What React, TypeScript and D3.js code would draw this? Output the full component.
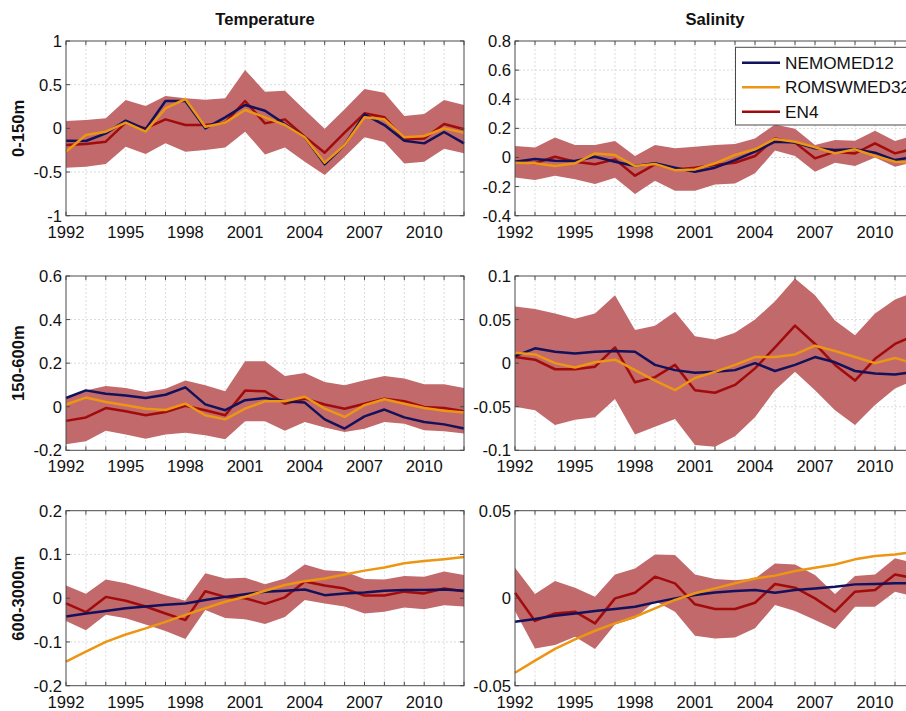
import React from "react";
import * as d3 from "d3";

// ---------- categories ----------
const years = [1992, 1993, 1994, 1995, 1996, 1997, 1998, 1999, 2000, 2001, 2002, 2003, 2004, 2005, 2006, 2007, 2008, 2009, 2010, 2011, 2012];
const xTickYears = [1992, 1995, 1998, 2001, 2004, 2007, 2010];
const seriesNames = ["NEMOMED12", "ROMSWMED32", "EN4"];
const colTitles = ["Temperature", "Salinity"];
const rowTitles = ["0-150m", "150-600m", "600-3000m"];

// ---------- Temperature 0-150m ----------
const t1Nemo = [-0.141, -0.145, -0.057, 0.088, -0.011, 0.313, 0.313, 0.0, 0.126, 0.267, 0.202, 0.05, -0.103, -0.412, -0.191, 0.16, 0.038, -0.141, -0.172, -0.042, -0.172];
const t1Roms = [-0.267, -0.076, -0.038, 0.065, -0.038, 0.229, 0.336, 0.019, 0.065, 0.21, 0.126, 0.038, -0.103, -0.393, -0.191, 0.126, 0.103, -0.103, -0.088, 0.0, -0.05];
const t1En4 = [-0.191, -0.179, -0.153, 0.065, 0.0, 0.103, 0.038, 0.038, 0.065, 0.313, 0.057, 0.103, -0.095, -0.279, -0.05, 0.172, 0.126, -0.126, -0.115, 0.05, -0.011];
const t1Hi = [0.084, 0.095, 0.115, 0.324, 0.256, 0.37, 0.344, 0.328, 0.344, 0.668, 0.42, 0.431, 0.21, -0.004, 0.218, 0.45, 0.408, 0.141, 0.164, 0.324, 0.267];
const t1Lo = [-0.45, -0.439, -0.408, -0.21, -0.294, -0.172, -0.267, -0.248, -0.218, -0.038, -0.298, -0.218, -0.382, -0.534, -0.324, -0.103, -0.156, -0.401, -0.382, -0.233, -0.286];
const t1Ticks = [-1, -0.5, 0, 0.5, 1];

// ---------- Salinity 0-150m ----------
const s1Nemo = [-0.029, -0.011, -0.022, -0.024, 0.005, -0.029, -0.059, -0.04, -0.07, -0.098, -0.07, -0.018, 0.04, 0.108, 0.102, 0.063, 0.051, 0.056, 0.033, -0.018, 0.005];
const s1Roms = [-0.036, -0.04, -0.059, -0.04, 0.028, 0.017, -0.059, -0.045, -0.087, -0.082, -0.04, 0.017, 0.056, 0.127, 0.108, 0.07, 0.028, 0.056, 0.01, -0.029, -0.036];
const s1En4 = [-0.029, -0.04, 0.005, -0.029, -0.047, -0.013, -0.125, -0.047, -0.082, -0.07, -0.052, -0.036, 0.01, 0.131, 0.102, -0.006, 0.04, 0.028, 0.097, 0.028, 0.063];
const s1Hi = [0.079, 0.069, 0.138, 0.085, 0.085, 0.113, 0.01, 0.085, 0.063, 0.074, 0.085, 0.092, 0.131, 0.227, 0.198, 0.085, 0.12, 0.115, 0.184, 0.113, 0.154];
const s1Lo = [-0.137, -0.155, -0.125, -0.15, -0.182, -0.139, -0.251, -0.16, -0.228, -0.228, -0.185, -0.178, -0.109, 0.047, 0.01, -0.098, -0.036, -0.059, 0.0, -0.063, -0.029];
const s1Ticks = [-0.4, -0.2, 0, 0.2, 0.4, 0.6, 0.8];

// ---------- Temperature 150-600m ----------
const t2Nemo = [0.04, 0.075, 0.06, 0.052, 0.04, 0.055, 0.089, 0.011, -0.016, 0.03, 0.04, 0.025, 0.019, -0.058, -0.1, -0.044, -0.013, -0.049, -0.07, -0.081, -0.1];
const t2Roms = [0.01, 0.042, 0.022, 0.007, -0.009, -0.015, 0.014, -0.039, -0.058, -0.009, 0.025, 0.025, 0.046, -0.009, -0.047, 0.007, 0.034, 0.014, -0.006, -0.018, -0.027];
const t2En4 = [-0.065, -0.049, -0.006, -0.021, -0.039, -0.024, 0.004, -0.016, -0.039, 0.074, 0.071, 0.014, 0.037, 0.01, -0.009, 0.014, 0.037, 0.025, -0.001, -0.006, -0.021];
const t2Hi = [0.04, 0.075, 0.095, 0.086, 0.068, 0.083, 0.12, 0.098, 0.071, 0.209, 0.209, 0.141, 0.155, 0.114, 0.098, 0.121, 0.141, 0.129, 0.103, 0.103, 0.086];
const t2Lo = [-0.172, -0.159, -0.11, -0.128, -0.147, -0.128, -0.12, -0.131, -0.149, -0.067, -0.067, -0.11, -0.07, -0.095, -0.116, -0.101, -0.07, -0.078, -0.108, -0.113, -0.123];
const t2Ticks = [-0.2, 0, 0.2, 0.4, 0.6];

// ---------- Salinity 150-600m ----------
const s2Nemo = [0.008, 0.017, 0.013, 0.011, 0.013, 0.014, 0.013, -0.002, -0.008, -0.011, -0.01, -0.008, 0.0, -0.009, -0.002, 0.007, 0.001, -0.009, -0.012, -0.013, -0.01];
const s2Roms = [0.012, 0.01, 0.0, -0.005, 0.001, 0.004, -0.008, -0.02, -0.031, -0.017, -0.01, -0.002, 0.007, 0.007, 0.01, 0.02, 0.014, 0.007, 0.0, 0.006, -0.001];
const s2En4 = [0.007, 0.004, -0.007, -0.007, -0.004, 0.018, -0.022, -0.016, -0.002, -0.031, -0.034, -0.025, -0.006, 0.018, 0.043, 0.022, -0.002, -0.02, 0.005, 0.022, 0.032];
const s2Hi = [0.065, 0.062, 0.057, 0.051, 0.057, 0.078, 0.038, 0.043, 0.059, 0.031, 0.027, 0.035, 0.05, 0.071, 0.097, 0.078, 0.049, 0.032, 0.057, 0.073, 0.082];
const s2Lo = [-0.05, -0.054, -0.071, -0.065, -0.062, -0.041, -0.082, -0.073, -0.064, -0.094, -0.096, -0.084, -0.062, -0.031, -0.01, -0.031, -0.054, -0.071, -0.048, -0.029, -0.019];
const s2Ticks = [-0.1, -0.05, 0, 0.05, 0.1];

// ---------- Temperature 600-3000m ----------
const t3Nemo = [-0.042, -0.035, -0.029, -0.023, -0.019, -0.015, -0.012, -0.004, 0.003, 0.009, 0.015, 0.017, 0.02, 0.007, 0.011, 0.013, 0.017, 0.019, 0.019, 0.02, 0.017];
const t3Roms = [-0.145, -0.122, -0.1, -0.083, -0.069, -0.054, -0.038, -0.023, -0.008, 0.003, 0.017, 0.03, 0.039, 0.045, 0.054, 0.063, 0.07, 0.08, 0.085, 0.089, 0.094];
const t3En4 = [-0.012, -0.032, 0.003, -0.006, -0.019, -0.035, -0.05, 0.016, 0.003, 0.0, -0.013, 0.002, 0.038, 0.029, 0.022, 0.006, 0.006, 0.015, 0.011, 0.022, 0.016];
const t3Hi = [0.029, 0.01, 0.043, 0.034, 0.021, 0.007, -0.006, 0.057, 0.045, 0.047, 0.032, 0.045, 0.077, 0.064, 0.061, 0.044, 0.043, 0.051, 0.049, 0.061, 0.053];
const t3Lo = [-0.052, -0.073, -0.038, -0.046, -0.06, -0.075, -0.093, -0.027, -0.045, -0.048, -0.059, -0.043, -0.004, -0.012, -0.019, -0.035, -0.031, -0.021, -0.025, -0.016, -0.019];
const t3Ticks = [-0.2, -0.1, 0, 0.1, 0.2];

// ---------- Salinity 600-3000m ----------
const s3Nemo = [-0.0134, -0.0119, -0.01, -0.0087, -0.0073, -0.0062, -0.0049, -0.0024, -0.0001, 0.0018, 0.0033, 0.0041, 0.0047, 0.0031, 0.0047, 0.0056, 0.0066, 0.0079, 0.0081, 0.0085, 0.0087];
const s3Roms = [-0.0426, -0.0357, -0.029, -0.0235, -0.0186, -0.0144, -0.0106, -0.0058, -0.001, 0.0028, 0.0056, 0.0085, 0.0113, 0.0129, 0.0155, 0.0174, 0.0193, 0.0222, 0.0241, 0.025, 0.0266];
const s3En4 = [0.0031, -0.013, -0.0087, -0.0077, -0.0144, -0.0001, 0.0031, 0.0123, 0.0085, -0.0035, -0.0062, -0.0062, -0.0026, 0.0081, 0.006, -0.0001, -0.0077, 0.0037, 0.0047, 0.0136, 0.0113];
const s3Hi = [0.0174, 0.0024, 0.0098, 0.006, 0.0009, 0.0136, 0.017, 0.025, 0.0247, 0.0136, 0.011, 0.0102, 0.0113, 0.0199, 0.0193, 0.0132, 0.0024, 0.0127, 0.0136, 0.0228, 0.0199];
const s3Lo = [-0.0073, -0.0287, -0.0268, -0.022, -0.029, -0.015, -0.0115, -0.0016, -0.0077, -0.0214, -0.023, -0.0224, -0.0172, -0.0039, -0.0073, -0.0125, -0.0178, -0.0049, -0.0049, 0.0037, 0.0009];
const s3Ticks = [-0.05, 0, 0.05];

// ---------- styles ----------
const NAVY = "#11115c";
const ORANGE = "#ec9614";
const RED = "#a20b0b";
const BAND = "#c1696b";
const AXIS = "#4a4a4a";
const GRID = "#d2d2d2";
const FONT = "'Liberation Sans', Arial, Helvetica, sans-serif";
const FS = 16.6;

const COLS = [
  [66, 464],
  [515, 915],
];
const ROWS = [
  [41, 215.7],
  [276, 450.3],
  [510.7, 685.7],
];

type PanelSpec = {
  row: number;
  col: number;
  nemo: number[];
  roms: number[];
  en4: number[];
  lo: number[];
  hi: number[];
  ticks: number[];
};

const panels: PanelSpec[] = [
  { row: 0, col: 0, nemo: t1Nemo, roms: t1Roms, en4: t1En4, lo: t1Lo, hi: t1Hi, ticks: t1Ticks },
  { row: 0, col: 1, nemo: s1Nemo, roms: s1Roms, en4: s1En4, lo: s1Lo, hi: s1Hi, ticks: s1Ticks },
  { row: 1, col: 0, nemo: t2Nemo, roms: t2Roms, en4: t2En4, lo: t2Lo, hi: t2Hi, ticks: t2Ticks },
  { row: 1, col: 1, nemo: s2Nemo, roms: s2Roms, en4: s2En4, lo: s2Lo, hi: s2Hi, ticks: s2Ticks },
  { row: 2, col: 0, nemo: t3Nemo, roms: t3Roms, en4: t3En4, lo: t3Lo, hi: t3Hi, ticks: t3Ticks },
  { row: 2, col: 1, nemo: s3Nemo, roms: s3Roms, en4: s3En4, lo: s3Lo, hi: s3Hi, ticks: s3Ticks },
];

function Panel({ p }: { p: PanelSpec }) {
  const [x0, x1] = COLS[p.col];
  const [y0, y1] = ROWS[p.row];
  const x = d3.scaleLinear().domain([years[0], years[years.length - 1]]).range([x0, x1]);
  const y = d3
    .scaleLinear()
    .domain([p.ticks[0], p.ticks[p.ticks.length - 1]])
    .range([y1, y0]);

  const area = d3
    .area<number>()
    .x((_, i) => x(years[i]))
    .y0((_, i) => y(p.lo[i]))
    .y1((_, i) => y(p.hi[i]));
  const line = (vals: number[]) =>
    d3
      .line<number>()
      .x((_, i) => x(years[i]))
      .y((v) => y(v))(vals) || "";

  return (
    <g>
      {/* grid */}
      {years.slice(1, -1).map((yr) => (
        <line key={"gx" + yr} x1={x(yr)} x2={x(yr)} y1={y0} y2={y1} stroke={GRID} strokeWidth={0.8} strokeDasharray="2 2" />
      ))}
      {p.ticks.slice(1, -1).map((t) => (
        <line key={"gy" + t} x1={x0} x2={x1} y1={y(t)} y2={y(t)} stroke={GRID} strokeWidth={0.8} strokeDasharray="2 2" />
      ))}
      {/* band */}
      <path d={area(p.en4) || ""} fill={BAND} stroke="none" />
      {/* lines */}
      <path d={line(p.en4)} fill="none" stroke={RED} strokeWidth={2.5} strokeLinejoin="round" />
      <path d={line(p.nemo)} fill="none" stroke={NAVY} strokeWidth={2.5} strokeLinejoin="round" />
      <path d={line(p.roms)} fill="none" stroke={ORANGE} strokeWidth={2.5} strokeLinejoin="round" />
      {/* box */}
      <rect x={x0} y={y0} width={x1 - x0} height={y1 - y0} fill="none" stroke={AXIS} strokeWidth={1} />
      {/* ticks */}
      {years.map((yr) => (
        <g key={"tx" + yr}>
          <line x1={x(yr)} x2={x(yr)} y1={y1} y2={y1 - 4} stroke={AXIS} strokeWidth={1} />
          <line x1={x(yr)} x2={x(yr)} y1={y0} y2={y0 + 4} stroke={AXIS} strokeWidth={1} />
        </g>
      ))}
      {p.ticks.map((t) => (
        <g key={"ty" + t}>
          <line x1={x0} x2={x0 + 4} y1={y(t)} y2={y(t)} stroke={AXIS} strokeWidth={1} />
          <line x1={x1} x2={x1 - 4} y1={y(t)} y2={y(t)} stroke={AXIS} strokeWidth={1} />
          <text x={x0 - 4} y={y(t)} dy="0.36em" textAnchor="end" fontSize={FS} fontFamily={FONT} fill="#111">
            {String(t)}
          </text>
        </g>
      ))}
      {xTickYears.map((yr) => (
        <text key={"lx" + yr} x={x(yr)} y={y1 + 22} textAnchor="middle" fontSize={FS} fontFamily={FONT} fill="#111">
          {String(yr)}
        </text>
      ))}
    </g>
  );
}

function Legend() {
  const colors = [NAVY, ORANGE, RED];
  const bx = 735.5;
  const by = 47.3;
  return (
    <g>
      <rect x={bx} y={by} width={190} height={77.7} fill="#fff" stroke={AXIS} strokeWidth={1} />
      {seriesNames.map((n, i) => {
        const cy = 62.7 + i * 24.5;
        return (
          <g key={n}>
            <line x1={742} x2={780} y1={cy} y2={cy} stroke={colors[i]} strokeWidth={2.5} />
            <text x={785} y={cy} dy="0.36em" fontSize={FS + 0.6} fontFamily={FONT} fill="#111">
              {n}
            </text>
          </g>
        );
      })}
    </g>
  );
}

export default function App() {
  return (
    <svg
      width={906}
      height={711}
      viewBox="0 0 906 711"
      style={{ position: "absolute", left: 0, top: 0, background: "#fff", display: "block" }}
    >
      <rect x={0} y={0} width={906} height={711} fill="#fff" />
      {panels.map((p, i) => (
        <Panel key={i} p={p} />
      ))}
      {colTitles.map((t, i) => (
        <text
          key={t}
          x={(COLS[i][0] + COLS[i][1]) / 2}
          y={25}
          textAnchor="middle"
          fontSize={FS}
          fontWeight="bold"
          fontFamily={FONT}
          fill="#111"
        >
          {t}
        </text>
      ))}
      {rowTitles.map((t, i) => {
        const cy = (ROWS[i][0] + ROWS[i][1]) / 2;
        return (
          <text
            key={t}
            transform={`translate(18,${cy}) rotate(-90)`}
            dy="0.36em"
            textAnchor="middle"
            fontSize={FS}
            fontWeight="bold"
            fontFamily={FONT}
            fill="#111"
          >
            {t}
          </text>
        );
      })}
      <Legend />
    </svg>
  );
}
